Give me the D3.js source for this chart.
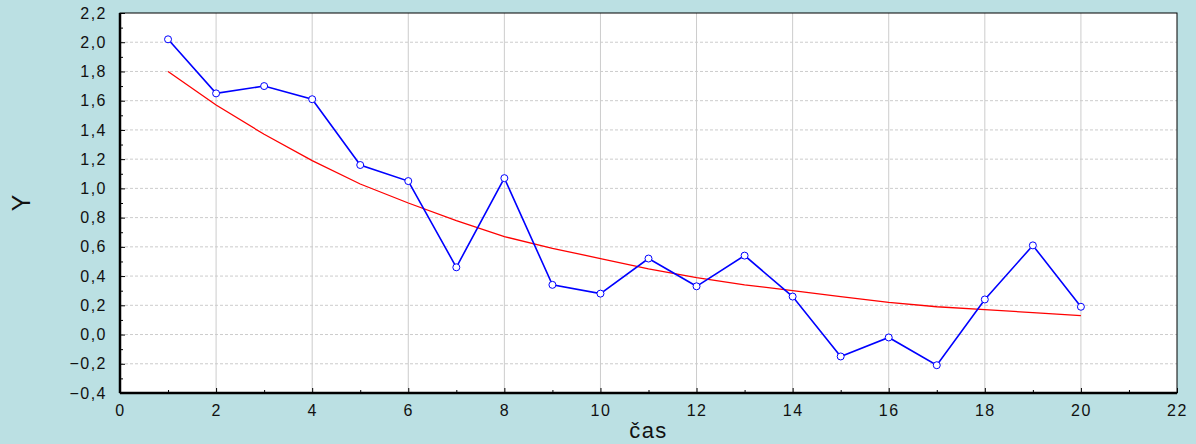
<!DOCTYPE html>
<html><head><meta charset="UTF-8">
<script src="https://cdn.jsdelivr.net/npm/d3@7"></script>
<style>body{margin:0;background:#bbe0e3}text{font-family:"Liberation Sans",Arial,sans-serif}</style>
</head><body><script>
const t = d3.range(1, 21);
const yObs = [2.02,1.65,1.70,1.61,1.16,1.05,0.46,1.07,0.34,0.28,0.52,0.33,0.54,0.26,-0.15,-0.02,-0.21,0.24,0.61,0.19];
const yFit = [1.80,1.57,1.37,1.19,1.03,0.90,0.78,0.67,0.59,0.52,0.45,0.39,0.34,0.30,0.26,0.22,0.19,0.17,0.15,0.13];
const xTicks = d3.range(0, 23, 2);
const yTicks = d3.range(-4, 23, 2).map(v => v / 10);

const W = 1196, H = 444, L = 120, R = 1177, T = 13, B = 393;
const svg = d3.select("body").append("svg").attr("width", W).attr("height", H);
const x = d3.scaleLinear().domain([0, 22]).range([L, R]);
const y = d3.scaleLinear().domain([-0.4, 2.2]).range([B, T]);
svg.append("rect").attr("x", L).attr("y", T).attr("width", R - L).attr("height", B - T).attr("fill", "#fff");

svg.append("g").selectAll("line").data(xTicks.slice(1, -1)).join("line")
  .attr("x1", d => x(d)).attr("x2", d => x(d)).attr("y1", T).attr("y2", B)
  .attr("stroke", "#ccc").attr("stroke-width", 1);
svg.append("g").selectAll("line").data(yTicks.slice(1, -1)).join("line")
  .attr("x1", L).attr("x2", R).attr("y1", d => y(d)).attr("y2", d => y(d))
  .attr("stroke", "#ccc").attr("stroke-dasharray", "3,2");

const fmt = d => d3.format(".1f")(d).replace(".", ",").replace("-", "\u2212");
const sty = g => { g.select(".domain").remove(); g.selectAll("text").attr("font-size", 16).attr("fill", "#111").attr("letter-spacing", 1.5); };
svg.append("g").attr("transform", `translate(0,${B})`)
  .call(d3.axisBottom(x).tickValues(xTicks).tickSize(-5).tickPadding(12)).call(sty);
svg.append("g").attr("transform", `translate(0,${B})`)
  .call(d3.axisBottom(x).tickValues(d3.range(1, 22, 2)).tickSize(-3).tickFormat("")).call(sty);
svg.append("g").attr("transform", `translate(${L},0)`)
  .call(d3.axisLeft(y).tickValues(yTicks).tickFormat(fmt).tickSize(-5).tickPadding(13)).call(sty);
svg.append("g").attr("transform", `translate(${L},0)`)
  .call(d3.axisLeft(y).tickValues(d3.range(-3, 22, 2).map(v => v / 10)).tickSize(-3).tickFormat("")).call(sty);
svg.append("rect").attr("x", L).attr("y", T).attr("width", R - L).attr("height", B - T)
  .attr("fill", "none").attr("stroke", "#000").attr("stroke-width", 1);
svg.append("line").attr("x1", L).attr("x2", L).attr("y1", T).attr("y2", B).attr("stroke", "#000").attr("stroke-width", 2.5);
svg.append("line").attr("x1", L).attr("x2", R).attr("y1", B).attr("y2", B).attr("stroke", "#000").attr("stroke-width", 2.5);

const line = d3.line().x((d, i) => x(t[i])).y(d => y(d));
svg.append("path").datum(yFit).attr("d", line).attr("fill", "none").attr("stroke", "#f00").attr("stroke-width", 1.3);
svg.append("path").datum(yObs).attr("d", line).attr("fill", "none").attr("stroke", "#00f").attr("stroke-width", 1.6);
svg.append("g").selectAll("circle").data(yObs).join("circle")
  .attr("cx", (d, i) => x(t[i])).attr("cy", d => y(d)).attr("r", 3.5)
  .attr("fill", "#fff").attr("stroke", "#00f").attr("stroke-width", 1);

svg.append("text").attr("x", (L + R) / 2).attr("y", 438).attr("text-anchor", "middle")
  .attr("font-size", 22).attr("letter-spacing", 1.5).attr("fill", "#111").text("čas");
svg.append("text").attr("transform", `translate(30,${(T + B) / 2}) rotate(-90)`).attr("text-anchor", "middle")
  .attr("font-size", 25).attr("fill", "#111").text("Y");
</script></body></html>
